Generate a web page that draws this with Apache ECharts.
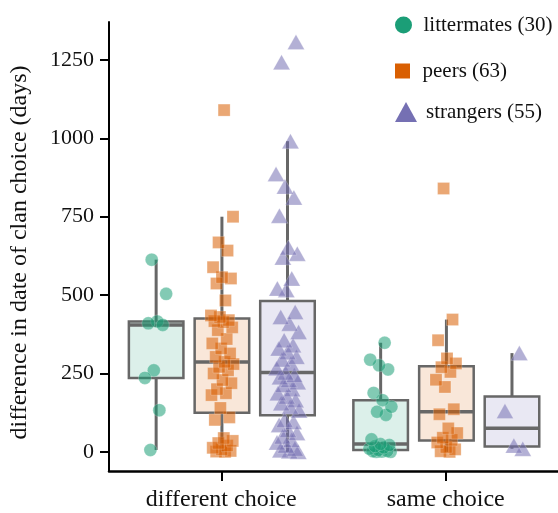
<!DOCTYPE html>
<html>
<head>
<meta charset="utf-8">
<script src="https://cdn.jsdelivr.net/npm/echarts@6/dist/echarts.min.js"></script>
<style>html,body{margin:0;padding:0;background:#fff}#c{width:558px;height:513px}</style>
</head>
<body>
<div id="c"></div>
<script>
// ---- data ----
const categories = ['different choice', 'same choice'];
const groups = ['littermates', 'peers', 'strangers'];
const yTicks = [0, 250, 500, 750, 1000, 1250];

const littermatesDifferent = [613, 504, 416, 410, 405, 260, 236, 133, 6];
const littermatesSame = [0, 0, 1, 2, 3, 6, 10, 14, 18, 22, 25, 40, 118, 128, 144, 165, 188, 263, 276, 294, 348];

const peersDifferent = [0, 1, 3, 8, 13, 20, 28, 35, 44, 102, 110, 140, 181, 187, 200, 219, 229, 250, 260, 271, 280,
  287, 303, 314, 330, 346, 360, 388, 397, 414, 417, 420, 430, 435, 483, 537, 553, 557, 589, 642, 668, 750, 1090];
const peersSame = [0, 2, 8, 15, 30, 38, 45, 60, 75, 120, 136, 207, 230, 255, 270, 282, 298, 356, 422, 840];

const strangersDifferent = [0, 2, 5, 10, 20, 30, 38, 49, 60, 70, 86, 95, 102, 132, 144, 155, 165, 176, 187, 200, 213,
  222, 229, 238, 245, 253, 267, 282, 295, 303, 318, 330, 340, 356, 382, 409, 430, 446, 516, 521, 553, 620, 632, 652,
  753, 811, 846, 886, 991, 1243, 1307];
const strangersSame = [10, 20, 130, 315];

// ---- styling ----
const colors = ['#1b9e77', '#d95f02', '#7570b3'];
const boxFills = ['#dcf0ea', '#f9e7d9', '#e9e8f3'];
const symbols = ['circle', 'rect', 'triangle'];
const symbolSizes = [13, 12, [17, 15]];
const groupOffsets = [-0.29, 0.003, 0.295];
const boxWidth = 0.243;
const jitterHalf = 0.052;
const FONT = 'Liberation Serif';

const dataByGroup = [
  [littermatesDifferent, littermatesSame],
  [peersDifferent, peersSame],
  [strangersDifferent, strangersSame]
];

function quantile(asc, p) {
  const h = (asc.length - 1) * p, lo = Math.floor(h), e = h - lo;
  return lo + 1 < asc.length ? asc[lo] + e * (asc[lo + 1] - asc[lo]) : asc[lo];
}
function boxStats(vals) {
  const a = vals.slice().sort((x, y) => x - y);
  const q1 = quantile(a, 0.25), med = quantile(a, 0.5), q3 = quantile(a, 0.75);
  const iqr = q3 - q1;
  const lo = a.find(v => v >= q1 - 1.5 * iqr);
  const hi = a.slice().reverse().find(v => v <= q3 + 1.5 * iqr);
  return [lo, q1, med, q3, hi];
}

const boxData = [];
groups.forEach((g, gi) => {
  categories.forEach((c, ci) => {
    boxData.push([ci + groupOffsets[gi]].concat(boxStats(dataByGroup[gi][ci]), [gi]));
  });
});

function jitter(j) {
  return ((j * 0.6180339887 + 0.31) % 1 - 0.5) * 2 * jitterHalf;
}

const names = groups.map((g, gi) => g + ' (' + (dataByGroup[gi][0].length + dataByGroup[gi][1].length) + ')');

const scatterSeries = groups.map((g, gi) => {
  const pts = [];
  categories.forEach((c, ci) => {
    dataByGroup[gi][ci].forEach((v, j) => pts.push([ci + groupOffsets[gi] + jitter(j + gi * 7), v]));
  });
  return {
    name: names[gi],
    type: 'scatter',
    xAxisIndex: 1, yAxisIndex: 0,
    symbol: symbols[gi],
    symbolSize: symbolSizes[gi],
    itemStyle: { color: colors[gi], opacity: 0.55, borderColor: 'rgba(255,255,255,0.5)', borderWidth: 0.8 },
    z: 3,
    data: pts
  };
});

const boxSeries = {
  type: 'custom',
  xAxisIndex: 1, yAxisIndex: 0,
  z: 2,
  encode: { x: 0, y: [1, 2, 3, 4, 5] },
  data: boxData,
  renderItem: function (params, api) {
    const x = api.value(0), gi = api.value(6);
    const pLo = api.coord([x, api.value(1)]);
    const pQ1 = api.coord([x, api.value(2)]);
    const pMed = api.coord([x, api.value(3)]);
    const pQ3 = api.coord([x, api.value(4)]);
    const pHi = api.coord([x, api.value(5)]);
    const half = api.size([boxWidth, 0])[0] / 2;
    const stroke = '#676767';
    return {
      type: 'group',
      children: [
        { type: 'line', shape: { x1: pQ3[0], y1: pQ3[1], x2: pHi[0], y2: pHi[1] }, style: { stroke: stroke, lineWidth: 3 } },
        { type: 'line', shape: { x1: pQ1[0], y1: pQ1[1], x2: pLo[0], y2: pLo[1] }, style: { stroke: stroke, lineWidth: 3 } },
        { type: 'rect', shape: { x: pQ1[0] - half, y: pQ3[1], width: 2 * half, height: pQ1[1] - pQ3[1] },
          style: { fill: boxFills[gi], stroke: stroke, lineWidth: 2.5 } },
        { type: 'line', shape: { x1: pMed[0] - half, y1: pMed[1], x2: pMed[0] + half, y2: pMed[1] }, style: { stroke: stroke, lineWidth: 3.5 } }
      ]
    };
  }
};

const legendIcons = ['circle', 'path://M0,0L10,0L10,10L0,10Z', 'path://M11,0L22,20L0,20Z'];
const legendSizes = [[30, 17], [30, 15], [30, 20]];
const legendTops = [14.5, 60.5, 101.5];
const legends = groups.map((g, gi) => ({
  show: true,
  left: 395,
  top: legendTops[gi],
  padding: 0,
  orient: 'vertical',
  itemWidth: legendSizes[gi][0],
  itemHeight: legendSizes[gi][1],
  symbolKeepAspect: true,
  selectedMode: false,
  textStyle: { fontFamily: FONT, fontSize: 21, color: '#111' },
  data: [{ name: names[gi], icon: legendIcons[gi], itemStyle: { color: colors[gi], opacity: 1, borderWidth: 0 } }]
}));

const chart = echarts.init(document.getElementById('c'), null, { renderer: 'canvas' });
chart.setOption({
  animation: false,
  backgroundColor: '#fff',
  textStyle: { fontFamily: FONT },
  legend: legends,
  grid: { left: 109, top: 22, bottom: 42, right: -3, containLabel: false },
  xAxis: [
    {
      type: 'category', data: categories, boundaryGap: true,
      axisLine: { show: true, onZero: false, lineStyle: { color: '#000', width: 2.5 } },
      axisTick: { show: true, alignWithLabel: true, length: 10, lineStyle: { color: '#000', width: 2 } },
      axisLabel: { fontFamily: FONT, fontSize: 24, color: '#111', margin: 17 },
      splitLine: { show: false }
    },
    { type: 'value', min: -0.5, max: 1.5, show: false }
  ],
  yAxis: [{
    type: 'value', min: -61, max: 1371,
    name: 'difference in date of clan choice (days)',
    nameLocation: 'middle', nameGap: 77,
    nameTextStyle: { fontFamily: FONT, fontSize: 24, color: '#111', padding: [0, 12, 0, 0] },
    axisLine: { show: true, onZero: false, lineStyle: { color: '#000', width: 2 } },
    axisTick: { show: true, length: 9, customValues: yTicks, lineStyle: { color: '#000', width: 2 } },
    axisLabel: { customValues: yTicks, formatter: v => String(v), fontFamily: FONT, fontSize: 22, color: '#111', margin: 15 },
    splitLine: { show: false }
  }],
  series: [boxSeries].concat(scatterSeries)
});
</script>
</body>
</html>
